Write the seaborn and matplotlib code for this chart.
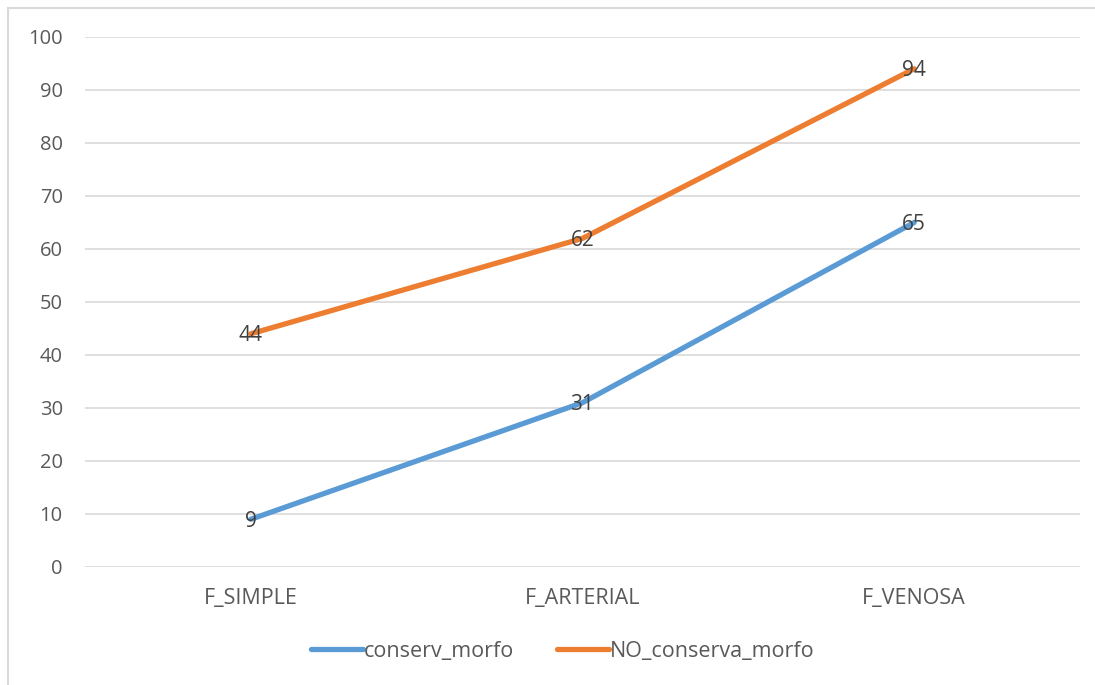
import matplotlib
matplotlib.use("Agg")
import matplotlib.pyplot as plt
from matplotlib.lines import Line2D
from matplotlib.patches import Rectangle
import seaborn as sns
import pandas as pd

categories = ["F_SIMPLE", "F_ARTERIAL", "F_VENOSA"]
conserv_morfo = [9, 31, 65]
no_conserva_morfo = [44, 62, 94]
series_names = ["conserv_morfo", "NO_conserva_morfo"]
y_ticks = list(range(0, 101, 10))

colors = {"conserv_morfo": "#5B9BD5", "NO_conserva_morfo": "#ED7D31"}

df = pd.DataFrame({
    "categoria": categories * 2,
    "valor": conserv_morfo + no_conserva_morfo,
    "serie": [series_names[0]] * 3 + [series_names[1]] * 3,
})
df["x"] = df["categoria"].map({c: i for i, c in enumerate(categories)})

sns.set_style("white")
plt.rcParams["font.family"] = ["Open Sans", "DejaVu Sans"]

fig = plt.figure(figsize=(10.95, 6.85), dpi=100)
ax = fig.add_axes([0.0776, 0.1723, 0.9087, 0.7737])

# chart frame (top and left edges visible)
fig.patches.append(Rectangle((8 / 1095, -0.05), 1.2, 1 - 8 / 685 + 0.05,
                             transform=fig.transFigure, fill=False,
                             edgecolor="#D9D9D9", linewidth=1.5, zorder=0))

for y in y_ticks:
    ax.axhline(y, color="#D9D9D9", linewidth=1.2, zorder=1)

sns.lineplot(data=df, x="x", y="valor", hue="serie", palette=colors,
             linewidth=3.8, ax=ax, legend=False, zorder=3,
             solid_capstyle="round")

for name, vals in zip(series_names, [conserv_morfo, no_conserva_morfo]):
    for i, v in enumerate(vals):
        ax.text(i, v - 0.4, str(v), ha="center", va="center", fontsize=15,
                color="#404040", zorder=4)

ax.set_xlim(-0.5, 2.5)
ax.set_ylim(0, 100)
ax.set_yticks(y_ticks)
ax.set_yticklabels([str(t) for t in y_ticks], fontsize=14.5, color="#595959")
ax.set_xticks(range(len(categories)))
ax.set_xticklabels(categories, fontsize=15.5, color="#595959")
ax.tick_params(axis="y", length=0, pad=16)
ax.tick_params(axis="x", length=0, pad=15)
ax.set_xlabel("")
ax.set_ylabel("")
for s in ax.spines.values():
    s.set_visible(False)

handles = [Line2D([0], [0], color=colors[n], linewidth=3.8, solid_capstyle="round")
           for n in series_names]
fig.legend(handles, series_names, loc="center", bbox_to_anchor=(0.514, 0.049),
           ncol=2, frameon=False, fontsize=15.5, handlelength=2.4,
           handletextpad=0.05, columnspacing=2.0, labelcolor="#595959")

fig.savefig("out.png", dpi=100, facecolor="white")
